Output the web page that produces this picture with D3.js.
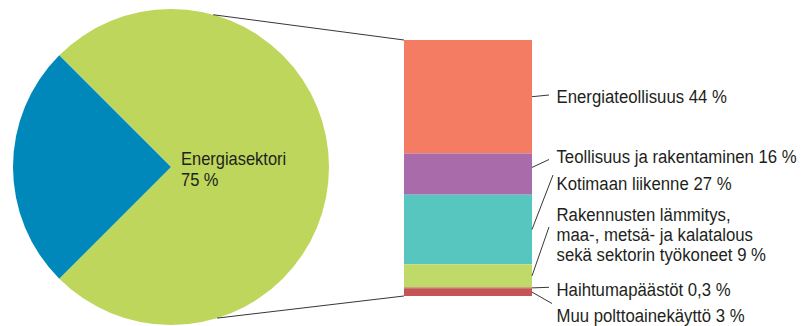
<!DOCTYPE html>
<html><head><meta charset="utf-8">
<script src="https://cdn.jsdelivr.net/npm/d3@7"></script>
<style>
html,body{margin:0;padding:0;background:#fff;}
svg{display:block;}
text{font-family:"Liberation Sans",Arial,sans-serif;fill:#231f20;}
</style></head>
<body>
<svg id="chart" width="803" height="326"></svg>
<script>
// ---- data ----
const pieCategories = ["Energiasektori", "Muut"];
const pieValues = [75, 25];
const pieLabelLines = ["Energiasektori", "75 %"];

const barCategories = [
  "Energiateollisuus",
  "Teollisuus ja rakentaminen",
  "Kotimaan liikenne",
  "Rakennusten lämmitys,|maa-, metsä- ja kalatalous|sekä sektorin työkoneet",
  "Haihtumapäästöt",
  "Muu polttoainekäyttö"
];
const barValues = [44, 16, 27, 9, 0.3, 3];
const barValueLabels = ["44 %", "16 %", "27 %", "9 %", "0,3 %", "3 %"];

// ---- styles / layout ----
const pieColors = ["#bdd65b", "#0088bb"];
const barColors = ["#f37c62", "#aa6bab", "#56c6bf", "#c0da6a", "#c55454", "#c55454"];
const labelBaselines = [102.5, 163, 190, 220.5, 296, 321.5];
const leaderEnds = [[549, 95], [549, 159.5], [553, 175], [549, 227], [549, 287.3], [552, 303.5]];
const lineGap = 20;

const svg = d3.select("#chart");
const cx = 171, cy = 167, R = 158;

// ---- pie ----
const pie = d3.pie().sort(null).startAngle(-Math.PI / 4).endAngle(Math.PI * 7 / 4);
const arc = d3.arc().innerRadius(0).outerRadius(R);
const pg = svg.append("g").attr("transform", `translate(${cx},${cy})`);
pg.selectAll("path").data(pie(pieValues)).join("path")
  .attr("d", arc).attr("fill", (d, i) => pieColors[i]);

// condensed text: real text, horizontally scaled
function addText(parent, x, yy, str, size, k) {
  parent.append("text")
    .attr("transform", `translate(${x},${yy}) scale(${k},1)`)
    .attr("font-size", size).text(str);
}

const plg = svg.append("g");
pieLabelLines.forEach((t, i) => addText(plg, 181, 165 + i * 21, t, 18.5, 0.89));

// ---- stacked bar ----
const total = d3.sum(barValues);
const y = d3.scaleLinear().domain([0, total]).range([40, 296]);
const x0 = 404, x1 = 532;
const cum = [];
let acc = 0;
barValues.forEach(v => { cum.push([acc, acc + v]); acc += v; });

svg.append("g").selectAll("rect").data(cum).join("rect")
  .attr("x", x0).attr("width", x1 - x0)
  .attr("y", d => y(d[0])).attr("height", d => y(d[1]) - y(d[0]))
  .attr("fill", (d, i) => barColors[i]);

// ---- connector lines from pie to bar ----
const a1 = 15.5 * Math.PI / 180, a2 = 163 * Math.PI / 180;
const pt = a => [cx + R * Math.sin(a), cy - R * Math.cos(a)];
const conn = [[pt(a1), [x0, y(0)]], [pt(a2), [x0, y(total)]]];
svg.append("g").selectAll("line").data(conn).join("line")
  .attr("x1", d => d[0][0]).attr("y1", d => d[0][1])
  .attr("x2", d => d[1][0]).attr("y2", d => d[1][1])
  .attr("stroke", "#231f20").attr("stroke-width", 0.9);

// ---- leaders and labels ----
const lg = svg.append("g");
barCategories.forEach((c, i) => {
  const mid = y((cum[i][0] + cum[i][1]) / 2);
  let startY = mid;
  if (i === 1) startY = y(cum[i][0]) + 14;
  lg.append("line")
    .attr("x1", x1).attr("y1", startY)
    .attr("x2", leaderEnds[i][0]).attr("y2", leaderEnds[i][1])
    .attr("stroke", "#231f20").attr("stroke-width", 0.9);
  const lines = c.split("|");
  lines[lines.length - 1] += " " + barValueLabels[i];
  lines.forEach((t, j) => addText(lg, 556.5, labelBaselines[i] + j * lineGap, t, 19, 0.882));
});
</script>
</body></html>
